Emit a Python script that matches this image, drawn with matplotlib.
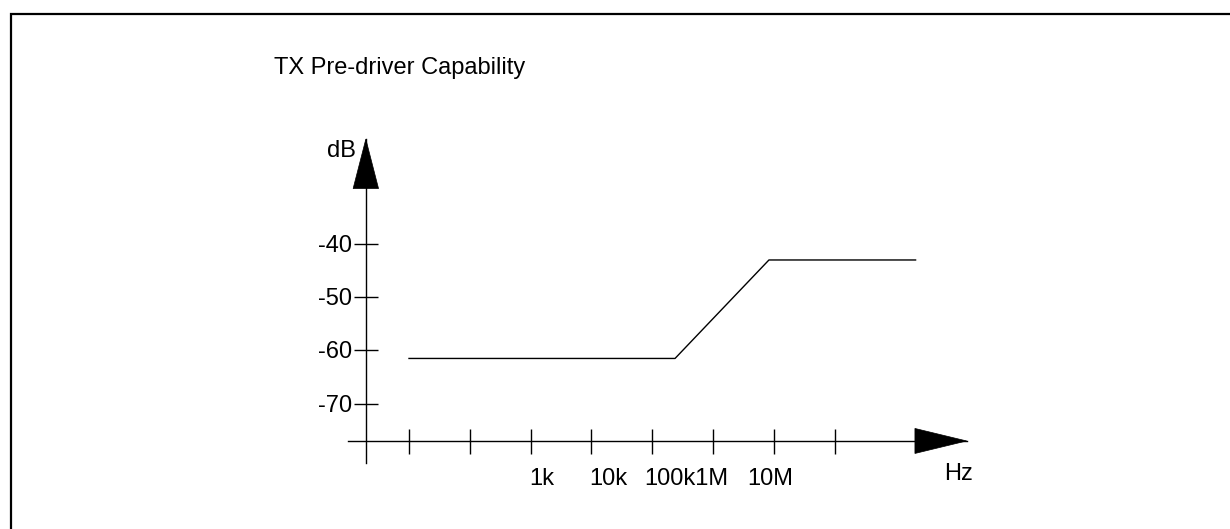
import matplotlib
matplotlib.use("Agg")
import matplotlib.pyplot as plt
import numpy as np
from matplotlib.patches import Polygon, Rectangle
from matplotlib.transforms import offset_copy

plt.rcParams['font.family'] = ['Liberation Sans', 'DejaVu Sans']

# ---- data ----
title = "TX Pre-driver Capability"
freq_hz = [10, 2.37e5, 8.3e6, 2.14e9]          # curve breakpoints (Hz)
level_db = [-61.5, -61.5, -43.0, -43.0]        # curve levels (dB)
y_ticks = [-40, -50, -60, -70]
y_tick_labels = ["-40", "-50", "-60", "-70"]
x_ticks = [1e1, 1e2, 1e3, 1e4, 1e5, 1e6, 1e7, 1e8]
x_label_text = ["1k", "10k", "100k1M", "10M"]
x_label_pos = [10**2.97, 10**3.97, 10**4.87, 10**6.56]
x_axis_level = -77.0
y_axis_freq = 1.95
x_axis_start = 1.0
x_axis_end = 10**10.17
y_axis_bottom = -81.2
y_axis_top = -20.3

W, H, DPI = 1230, 529, 100
fig = plt.figure(figsize=(W / DPI, H / DPI), dpi=DPI)
ax = fig.add_axes([0, 0, 1, 1])
ax.set_xscale('log')
ax.set_xlim(10**-5.726, 10**14.501)
ax.set_ylim(-93.54, 5.84)
ax.axis('off')

lw = 1.0
# frame border (top/left visible)
fig.patches.append(Rectangle((11 / W, -0.1), 1.2, 1 - 14 / H + 0.1,
                             transform=fig.transFigure, fill=False,
                             lw=1.6, ec='black'))

# x axis line
ax.plot([x_axis_start, x_axis_end], [x_axis_level, x_axis_level], color='black', lw=lw)
# y axis line
ax.plot([y_axis_freq, y_axis_freq], [y_axis_bottom, y_axis_top], color='black', lw=lw)

# arrowheads (sized in pixels)
def arrow(tip_data, direction, length, half):
    tx, ty = ax.transData.transform(tip_data)
    if direction == 'right':
        pts = [(tx, ty), (tx - length, ty + half), (tx - length, ty - half)]
    else:
        pts = [(tx, ty), (tx - half, ty - length), (tx + half, ty - length)]
    inv = ax.transData.inverted()
    ax.add_patch(Polygon(inv.transform(pts), closed=True, fc='black', ec='black', lw=0.5))

fig.canvas.draw()
arrow((x_axis_end, x_axis_level), 'right', 51.7, 12.5)
arrow((y_axis_freq, y_axis_top), 'up', 49.4, 12.7)

# ticks
ax.plot(x_ticks, [x_axis_level] * len(x_ticks), linestyle='none', marker='|',
        markersize=25 * 72 / DPI, markeredgewidth=lw, color='black')
ax.plot([y_axis_freq] * len(y_ticks), y_ticks, linestyle='none', marker='_',
        markersize=24.6 * 72 / DPI, markeredgewidth=lw, color='black')

# curve
ax.plot(freq_hz, level_db, color='black', lw=lw)

fs = 17
# y tick labels
tr_y = offset_copy(ax.transData, fig=fig, x=-14.0, y=-8.0, units='dots')
for v, s in zip(y_ticks, y_tick_labels):
    ax.text(y_axis_freq, v, s, transform=tr_y, ha='right', va='baseline', fontsize=fs)

# x labels
tr_x = offset_copy(ax.transData, fig=fig, x=0, y=-44.3, units='dots')
for p, s in zip(x_label_pos, x_label_text):
    ax.text(p, x_axis_level, s, transform=tr_x, ha='left', va='baseline', fontsize=fs)

# axis names and title (figure pixel placement)
fig.text(944 / W, 1 - 480 / H, "Hz", ha='left', va='baseline', fontsize=fs)
fig.text(356 / W, 1 - 157 / H, "dB", ha='right', va='baseline', fontsize=fs)
fig.text(274 / W, 1 - 74.3 / H, title, ha='left', va='baseline', fontsize=fs)

fig.savefig("out.png", dpi=DPI)
